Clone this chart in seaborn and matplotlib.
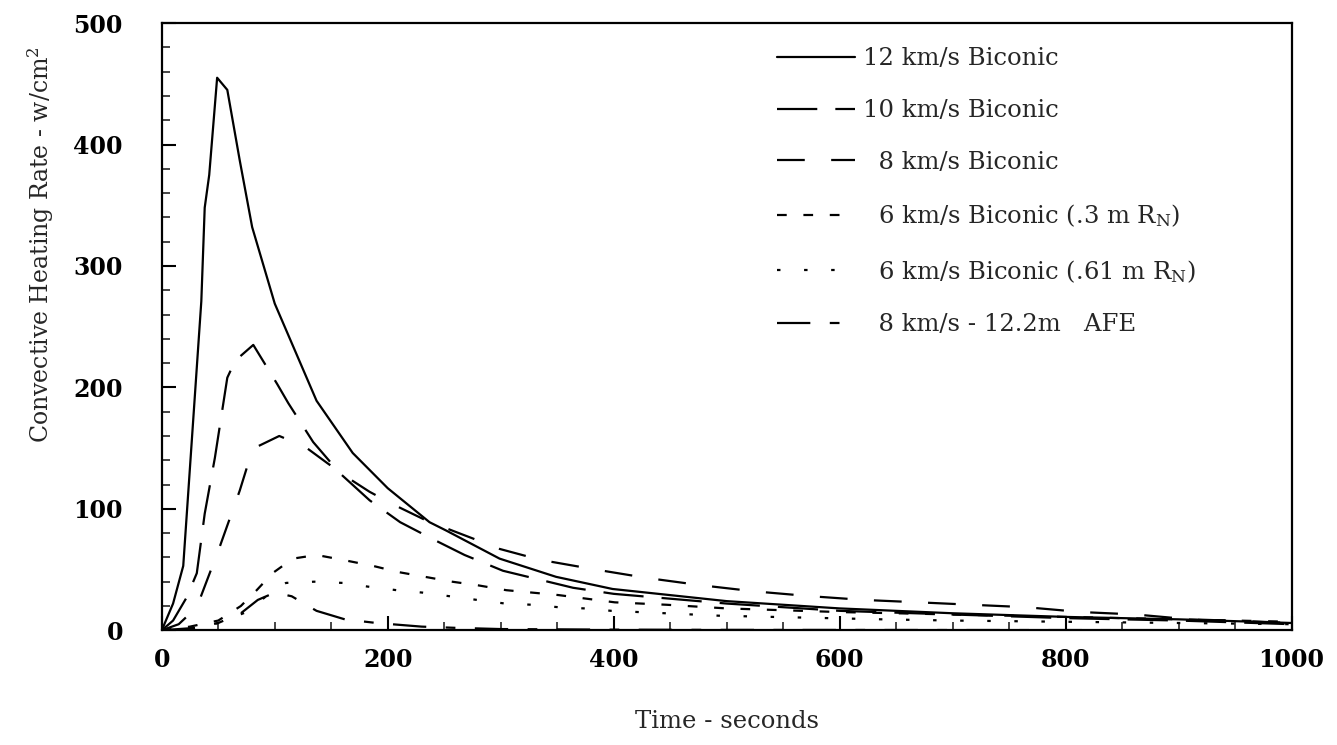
import seaborn as sns
import matplotlib.pyplot as plt
from matplotlib.ticker import MultipleLocator

sns.set_style("ticks")
plt.rcParams['font.family'] = ['DejaVu Serif']
plt.rcParams['mathtext.fontset'] = 'dejavuserif'
plt.rcParams['lines.scale_dashes'] = False

# time (s) / convective heating rate (w/cm^2)
t12 = [0, 10, 19, 35, 38, 42, 49, 58, 69, 80, 100, 137, 169, 200, 237, 252, 299, 349, 399, 500, 600, 700, 800, 900, 1000]
q12 = [0, 22, 53, 271, 348, 375, 455, 445, 387, 332, 269, 189, 146, 117, 89, 82, 59, 44, 34, 24, 18, 14, 11, 9, 6]

t10 = [0, 10, 22, 31, 38, 47, 58, 65, 81, 102, 112, 134, 158, 184, 211, 240, 268, 302, 364, 400, 500, 600, 700, 800, 900, 1000]
q10 = [0, 8, 27, 47, 96, 142, 208, 222, 235, 203, 187, 155, 129, 107, 89, 75, 62, 49, 35, 30, 22, 16, 13, 10, 8, 5]

t8 = [0, 15, 31, 51, 69, 78, 84, 104, 127, 146, 164, 184, 204, 235, 277, 299, 335, 384, 430, 478, 525, 575,
      621, 670, 717, 765, 814, 862, 910, 960, 1000]
q8 = [0, 5, 19, 68, 115, 142, 151, 160, 151, 138, 126, 114, 104, 90, 75, 67, 58, 50, 43, 37, 32, 28,
      25, 23, 21, 19, 15, 13, 9, 7.5, 6]

t6a = [0, 25, 50, 70, 84, 98, 116, 137, 160, 187, 209, 233, 257, 280, 305, 328, 351, 376, 401, 447, 500,
       600, 700, 800, 900, 1000]
q6a = [0, 3, 8, 20, 33, 47, 59, 62, 58, 53, 48, 44, 40, 37, 33, 31, 29, 26, 23, 21, 18,
       15, 13, 11, 9, 7]

t6b = [0, 30, 50, 75, 95, 110, 135, 160, 182, 208, 231, 255, 279, 304, 328, 351, 374, 398, 446, 493, 541,
       590, 638, 700, 800, 900, 1000]
q6b = [0, 2, 6, 15, 30, 39, 40, 39, 36, 33, 31, 28, 25, 22, 21, 19, 18, 16, 14, 12, 11,
       10, 9, 8, 7, 6, 5]

tafe = [0, 30, 50, 70, 85, 100, 115, 137, 162, 190, 230, 260, 300, 400, 500, 700, 1000]
qafe = [0, 2, 6, 14, 25, 31, 28, 16, 9, 6, 3, 2, 1, 0.5, 0.3, 0.2, 0.1]

labels = ['12 km/s Biconic', '10 km/s Biconic', '  8 km/s Biconic',
          '  6 km/s Biconic (.3 m R$_\\mathrm{N}$)', '  6 km/s Biconic (.61 m R$_\\mathrm{N}$)',
          '  8 km/s - 12.2m   AFE']

series = [(t12, q12), (t10, q10), (t8, q8), (t6a, q6a), (t6b, q6b), (tafe, qafe)]
styles = ['-', (0, (29, 13)), (0, (20, 19)), (0, (7, 12)), (0, (2.5, 17)), (0, (24, 14, 7, 14))]

fig = plt.figure(figsize=(13.37, 7.45), dpi=100)
ax = fig.add_axes([0.121, 0.154, 0.845, 0.815])

for (t, q), lab, ls in zip(series, labels, styles):
    sns.lineplot(x=t, y=q, ax=ax, color='black', lw=1.6, linestyle=ls, label=lab)

ax.set_xlim(0, 1000)
ax.set_ylim(0, 500)
ax.xaxis.set_major_locator(MultipleLocator(200))
ax.xaxis.set_minor_locator(MultipleLocator(50))
ax.yaxis.set_major_locator(MultipleLocator(100))
ax.yaxis.set_minor_locator(MultipleLocator(20))
ax.tick_params(which='major', direction='in', length=10, width=1.5, labelsize=17, colors='black')
ax.tick_params(which='minor', direction='in', length=6, width=1.2)
ax.tick_params(axis='x', which='major', pad=13)
ax.tick_params(axis='y', which='major', pad=28)
for lbl in ax.get_xticklabels() + ax.get_yticklabels():
    lbl.set_fontweight('bold')
for sp in ax.spines.values():
    sp.set_linewidth(1.6)
    sp.set_color('black')

ax.set_xlabel('Time - seconds', fontsize=17.5, labelpad=27)
ax.set_ylabel('Convective Heating Rate - w/cm$^2$', fontsize=17)
ax.yaxis.set_label_coords(-0.094, 0.636)

ax.legend(loc='upper left', bbox_to_anchor=(0.545, 0.96), frameon=False, fontsize=17.5,
          handlelength=3.2, handletextpad=0.3, labelspacing=1.18, borderaxespad=0, borderpad=0)

plt.savefig('out.png', dpi=100)
